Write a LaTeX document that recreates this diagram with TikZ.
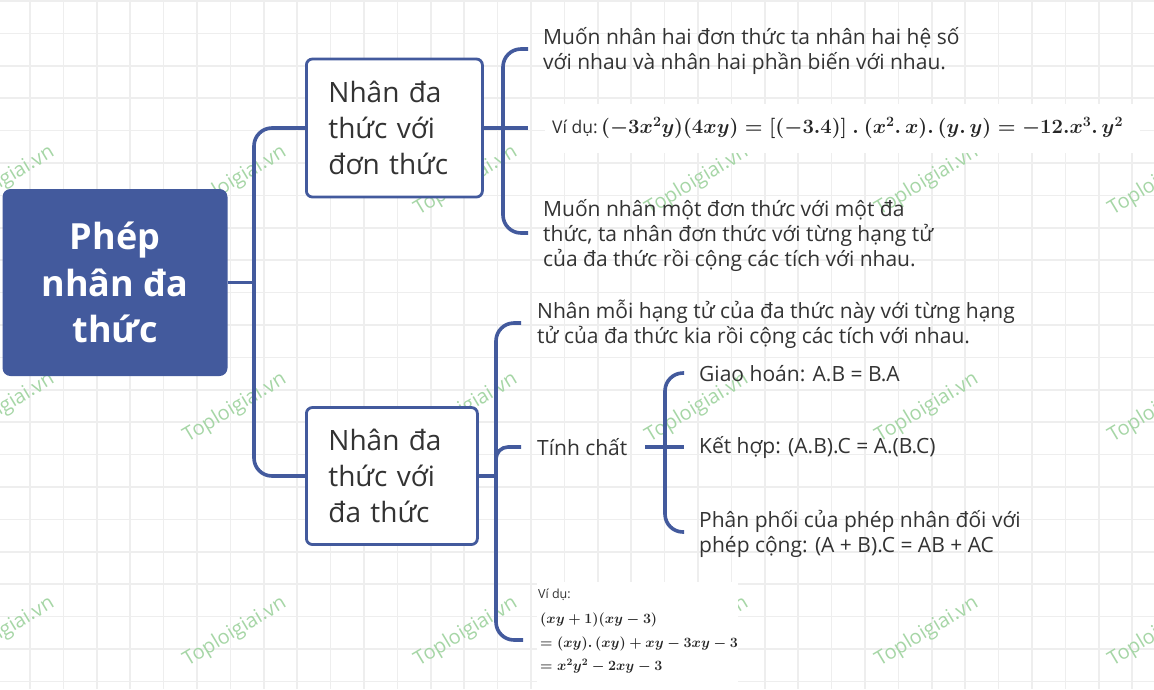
\documentclass[tikz,border=0pt]{standalone}
\usepackage{fix-cm}
\usepackage{fontspec}
\setmainfont{Open Sans}
\definecolor{mblue}{HTML}{435A9D}
\definecolor{txt}{HTML}{333333}
\definecolor{gridc}{HTML}{EEEEEE}
\definecolor{wm}{HTML}{A6D6A6}
\begin{document}
\begin{tikzpicture}[x=1pt,y=-1pt,
  conn/.style={draw=mblue, line width=3.6pt, rounded corners=18pt},
  rootbox/.style={fill=mblue, rounded corners=8pt, text=white,
    font=\fontsize{36}{46.5}\selectfont\bfseries, align=center,
    minimum width=225pt, minimum height=187pt, inner sep=0pt},
  catbox/.style={draw=mblue, line width=2.8pt, fill=white, rounded corners=6pt,
    text=txt, font=\fontsize{28}{36}\selectfont, align=left,
    inner xsep=22pt, inner ysep=0pt, anchor=west},
  leaf/.style={text=txt, font=\fontsize{21}{25}\selectfont, align=left,
    inner sep=0pt, anchor=west},
  wmark/.style={text=wm, font=\fontsize{20}{20}\selectfont, rotate=31, inner sep=0pt},
  mathbg/.style={fill=white, inner sep=0pt, anchor=north west},
]
\useasboundingbox (0,0) rectangle (1154,689);
\fill[white] (0,0) rectangle (1154,689);
% grid
\foreach \i in {0,...,34} \draw[gridc, line width=1.6pt] ({30+33.4*\i},0) -- ({30+33.4*\i},689);
\foreach \j in {0,...,21} \draw[gridc, line width=1.6pt] (0,{1+32.4*\j}) -- (1154,{1+32.4*\j});
% watermarks
\foreach \x in {3,235,466,697,927,1160}
  \foreach \y in {181,408,632}
    \node[wmark] (wm-\x-\y) at (\x,\y) {Toploigiai.vn};

% root and category boxes
\node[rootbox] (root) at (115,282.5) {Phép\\nhân đa\\thức};
\node[catbox, minimum width=176pt, minimum height=138pt, text width=132pt] (b1) at (305,128) {Nhân đa\\thức với\\đơn thức};
\node[catbox, minimum width=171pt, minimum height=137pt, text width=127pt] (b2) at (305,476) {Nhân đa\\thức với\\đa thức};

% trunk
\coordinate (trunk) at (254,282.5);
\draw[conn] (root.east) -- (trunk);
\draw[conn] (b1.west) -| (trunk) |- (b2.west);

% top bracket
\coordinate (j1) at (503,128);
\coordinate (e1) at (528,49);
\coordinate (e2) at (528,128);
\coordinate (e3) at (528,233);
\draw[conn] (b1.east) -- (e2);
\draw[conn] (e1) -| (j1) |- (e3);

% bottom bracket
\coordinate (j2) at (496,476);
\coordinate (j2b) at (496,480);
\coordinate (f1) at (521,323);
\coordinate (f2) at (521,447);
\coordinate (f3) at (523,640);
\draw[conn] (b2.east) -- (j2);
\draw[conn] (f1) -| (j2) |- (f3);
\draw[conn, rounded corners=12pt] (j2b) |- (f2);

% tinh chat bracket
\coordinate (k0) at (645,447);
\coordinate (kj) at (665,447);
\coordinate (k1) at (684,373);
\coordinate (k2) at (684,447);
\coordinate (k3) at (684,532);
\draw[conn] (k0) -- (k2);
\draw[conn] (k1) -| (kj) |- (k3);

% leaf texts
\node[leaf] (t1) at (543,51) {Muốn nhân hai đơn thức ta nhân hai hệ số\\với nhau và nhân hai phần biến với nhau.};
\node[mathbg, minimum width=595pt, minimum height=49pt] (ex1bg) at (545,104) {};
\node[anchor=west, inner sep=0pt, text=txt] (ex1) at (552,128)
  {{\fontsize{17.5}{17.5}\selectfont Ví dụ:} {\fontsize{20.3}{20.3}\selectfont\boldmath\color{black!85}$(-3x^2y)(4xy)=[(-3.4)]\mathbin{.}(x^2.\,x).\,(y.\,y)=-12.x^3.\,y^2$}};
\node[leaf] (t3) at (543,235) {Muốn nhân một đơn thức với một đa\\thức, ta nhân đơn thức với từng hạng tử\\của đa thức rồi cộng các tích với nhau.};
\node[leaf] (t4) at (537,324) {Nhân mỗi hạng tử của đa thức này với từng hạng\\tử của đa thức kia rồi cộng các tích với nhau.};
\node[leaf] (tc) at (537,447) {Tính chất};
\node[leaf] (g1) at (699,374) {Giao hoán: A.B = B.A};
\node[leaf] (g2) at (699,447) {Kết hợp: (A.B).C = A.(B.C)};
\node[leaf] (g3) at (699,534) {Phân phối của phép nhân đối với\\phép cộng: (A + B).C = AB + AC};

% bottom example
\node[mathbg, minimum width=201pt, minimum height=107pt] (ex2bg) at (537,582) {};
\node[anchor=west, inner sep=0pt, text=txt, font=\fontsize{12.5}{12.5}\selectfont] (ex2h) at (538,595) {Ví dụ:};
\node[anchor=north west, inner sep=0pt, text=black!85, align=left,
  font=\fontsize{14.2}{23.5}\selectfont\boldmath] (ex2) at (540,613)
  {$(xy+1)(xy-3)$\\$=(xy).\,(xy)+xy-3xy-3$\\$=x^2y^2-2xy-3$};
\end{tikzpicture}
\end{document}
